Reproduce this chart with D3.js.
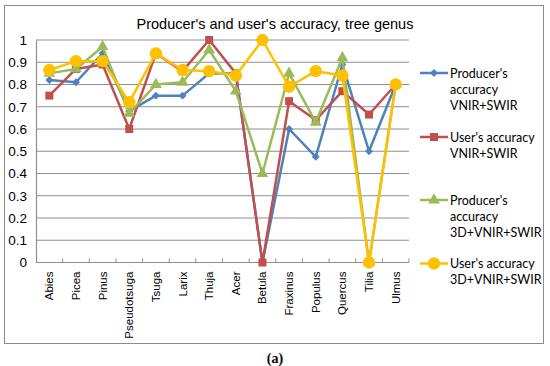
<!DOCTYPE html>
<html>
<head>
<meta charset="utf-8">
<script src="https://cdn.jsdelivr.net/npm/d3@7"></script>
<style>
  body { margin: 0; background: #fff; }
  svg { display: block; }
</style>
</head>
<body>
<div class="chart-container"></div>
<script>
// data
var genera = ["Abies", "Picea", "Pinus", "Pseudotsuga", "Tsuga", "Larix", "Thuja",
              "Acer", "Betula", "Fraxinus", "Populus", "Quercus", "Tilia", "Ulmus"];

var prodVnir   = [0.82, 0.81, 0.94, 0.68, 0.75, 0.75, 0.85, 0.85, 0, 0.60, 0.475, 0.89, 0.50, 0.80];
var userVnir   = [0.75, 0.87, 0.89, 0.60, 0.94, 0.86, 1.00, 0.85, 0, 0.725, 0.64, 0.77, 0.665, 0.80];
var prod3d     = [0.85, 0.87, 0.97, 0.67, 0.80, 0.81, 0.955, 0.77, 0.40, 0.85, 0.63, 0.92, 0, 0.80];
var user3d     = [0.865, 0.905, 0.905, 0.72, 0.94, 0.865, 0.86, 0.84, 1.00, 0.79, 0.86, 0.84, 0, 0.80];

var yTicks = [0, 0.1, 0.2, 0.3, 0.4, 0.5, 0.6, 0.7, 0.8, 0.9, 1];

var seriesNames = [
  ["Producer's", "accuracy", "VNIR+SWIR"],
  ["User's accuracy", "VNIR+SWIR"],
  ["Producer's", "accuracy", "3D+VNIR+SWIR"],
  ["User's accuracy", "3D+VNIR+SWIR"]
];

var series = [
  {name: seriesNames[0], values: prodVnir, color: "#4F81BD", marker: "diamond"},
  {name: seriesNames[1], values: userVnir, color: "#C0504D", marker: "square"},
  {name: seriesNames[2], values: prod3d,   color: "#9BBB59", marker: "triangle"},
  {name: seriesNames[3], values: user3d,   color: "#FFC000", marker: "circle"}
];

var width = 550, height = 366;
var plot = {left: 36, right: 409, top: 40, bottom: 262.5};

var svg = d3.select(".chart-container").append("svg")
    .attr("width", width)
    .attr("height", height)
    .style("font-family", "'Liberation Sans', Arial, sans-serif");

// outer frame
svg.append("rect")
    .attr("x", 4.5).attr("y", 5.5)
    .attr("width", 539).attr("height", 338)
    .attr("fill", "#fff")
    .attr("stroke", "#8c8c8c")
    .attr("stroke-width", 1);

var x = d3.scaleBand()
    .domain(genera)
    .range([plot.left, plot.right]);

var y = d3.scaleLinear()
    .domain([0, 1])
    .range([plot.bottom, plot.top]);

// gridlines
svg.append("g")
    .attr("class", "grid")
    .selectAll("line")
    .data(yTicks.slice(1))
    .enter().append("line")
      .attr("x1", plot.left).attr("x2", plot.right)
      .attr("y1", function(d){ return y(d); })
      .attr("y2", function(d){ return y(d); })
      .attr("stroke", "#8f8f8f")
      .attr("stroke-width", 1.2);

// y axis labels
var yAxis = svg.append("g")
    .attr("transform", "translate(" + plot.left + ",0)")
    .call(d3.axisLeft(y)
      .tickValues(yTicks)
      .tickSize(0)
      .tickPadding(9)
      .tickFormat(function(d){ return d3.format("")(+d.toFixed(1)); }));
yAxis.select(".domain").attr("stroke", "#8f8f8f").attr("stroke-width", 1.2);
yAxis.selectAll("text")
    .attr("font-size", 13.5)
    .attr("fill", "#000")
    .style("font-family", "'Liberation Sans', Arial, sans-serif");

// x axis: line + boundary ticks pointing up
var xg = svg.append("g").attr("class", "x-axis");
xg.append("line")
    .attr("x1", plot.left).attr("x2", plot.right)
    .attr("y1", y(0)).attr("y2", y(0))
    .attr("stroke", "#8f8f8f").attr("stroke-width", 1.2);
xg.selectAll(".tick")
    .data(genera)
    .enter().append("line")
      .attr("x1", function(d){ return x(d) + x.bandwidth(); })
      .attr("x2", function(d){ return x(d) + x.bandwidth(); })
      .attr("y1", y(0)).attr("y2", y(0) - 4)
      .attr("stroke", "#8f8f8f").attr("stroke-width", 1);
xg.selectAll("text")
    .data(genera)
    .enter().append("text")
      .attr("transform", function(d){
        return "translate(" + (x(d) + x.bandwidth() / 2 + 4) + "," + (y(0) + 9) + ") rotate(-90)";
      })
      .attr("text-anchor", "end")
      .attr("font-size", 11.5)
      .attr("fill", "#000")
      .text(function(d){ return d; });

// title
svg.append("text")
    .attr("x", 275).attr("y", 29)
    .attr("text-anchor", "middle")
    .attr("font-size", 14.5)
    .attr("fill", "#000")
    .text("Producer's and user's accuracy, tree genus");

function markerPath(type) {
  if (type === "diamond") return d3.symbol().type(d3.symbolDiamond2).size(40)();
  if (type === "square") return d3.symbol().type(d3.symbolSquare).size(64)();
  if (type === "triangle") return d3.symbol().type(d3.symbolTriangle).size(60)();
  return d3.symbol().type(d3.symbolCircle).size(120)();
}

var line = d3.line()
    .x(function(d, i){ return x(genera[i]) + x.bandwidth() / 2; })
    .y(function(d){ return y(d); });

var sg = svg.selectAll(".series")
    .data(series)
    .enter().append("g")
      .attr("class", "series");

sg.append("path")
    .attr("d", function(d){ return line(d.values); })
    .attr("fill", "none")
    .attr("stroke", function(d){ return d.color; })
    .attr("stroke-width", 2.5)
    .attr("stroke-linejoin", "round");

sg.each(function(s){
  d3.select(this).selectAll("path.mk")
    .data(s.values)
    .enter().append("path")
      .attr("class", "mk")
      .attr("d", markerPath(s.marker))
      .attr("transform", function(d, i){
        return "translate(" + (x(genera[i]) + x.bandwidth() / 2) + "," + y(d) + ")";
      })
      .attr("fill", s.color);
});

// legend
var legendY = [73, 137, 200, 263.5];
var lg = svg.selectAll(".legend")
    .data(series)
    .enter().append("g")
      .attr("class", "legend")
      .attr("transform", function(d, i){ return "translate(420," + legendY[i] + ")"; });

lg.append("line")
    .attr("x1", 0).attr("x2", 28)
    .attr("stroke", function(d){ return d.color; })
    .attr("stroke-width", 2.5);
lg.append("path")
    .attr("d", function(d){ return markerPath(d.marker); })
    .attr("transform", "translate(14,0)")
    .attr("fill", function(d){ return d.color; });
lg.append("text")
    .attr("x", 30)
    .attr("font-size", 12.5)
    .attr("fill", "#000")
    .style("font-family", "Lato, 'Open Sans', sans-serif")
    .selectAll("tspan")
    .data(function(d){ return d.name; })
    .enter().append("tspan")
      .attr("x", 30)
      .attr("y", function(d, i){ return i * 16.3 + 4.5; })
      .text(function(d){ return d; });

// caption
svg.append("text")
    .attr("x", 275).attr("y", 363)
    .attr("text-anchor", "middle")
    .attr("font-size", 14)
    .attr("font-weight", "bold")
    .style("font-family", "'Liberation Serif', serif")
    .attr("fill", "#000")
    .text("(a)");
</script>
</body>
</html>
